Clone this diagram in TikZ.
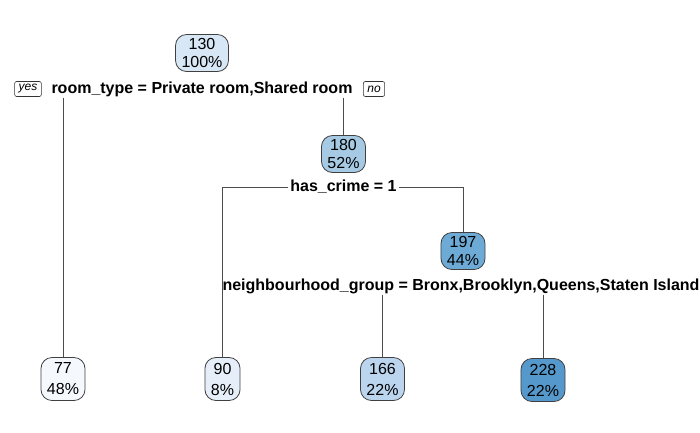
\documentclass[tikz,border=0pt]{standalone}
\usepackage{fontspec}
\setmainfont{Liberation Sans}
\begin{document}
\begin{tikzpicture}[x=1pt,y=-1pt,
  every node/.style={text=black},
  tnode/.style={draw=black!75, line width=0.8pt, rounded corners=11pt, align=center,
    inner xsep=6pt, inner ysep=0pt, minimum height=37pt,
    font=\fontsize{16}{18}\selectfont},
  leafnode/.style={tnode, minimum height=43pt, font=\fontsize{16}{21}\selectfont},
  splitlabel/.style={font=\fontsize{16}{18}\selectfont\bfseries, inner sep=2pt, fill=white},
  yn/.style={draw=black!80, line width=0.6pt, rounded corners=2pt, inner xsep=4pt, inner ysep=1pt,
    minimum height=15pt, font=\fontsize{12}{13}\selectfont\itshape},
  conn/.style={draw=black!70, line width=0.8pt}
]
\useasboundingbox (0,0) rectangle (700,432);
\definecolor{c130}{HTML}{D8E7F5}
\definecolor{c180}{HTML}{A6CAE4}
\definecolor{c197}{HTML}{6DABD6}
\definecolor{c77}{HTML}{F5F9FE}
\definecolor{c90}{HTML}{E6EFF9}
\definecolor{c166}{HTML}{BCD5EE}
\definecolor{c228}{HTML}{5598CB}

% split labels
\node[splitlabel] (s1) at (202,89) {room\_type = Private room,Shared room};
\node[splitlabel] (s2) at (343.5,187) {has\_crime = 1};
\node[splitlabel] (s3) at (461,286) {neighbourhood\_group = Bronx,Brooklyn,Queens,Staten Island};
\node[yn] (yes) at (28,89) {yes};
\node[yn] (no) at (374,89) {no};

% nodes
\node[tnode, fill=c130] (n1) at (202,53) {130\\100\%};
\node[tnode, fill=c180] (n2) at (343.5,154) {180\\52\%};
\node[tnode, fill=c197] (n3) at (463,251) {197\\44\%};
\node[leafnode, fill=c77] (l1) at (63,379) {77\\48\%};
\node[leafnode, fill=c90] (l2) at (222.5,379) {90\\8\%};
\node[leafnode, fill=c166] (l3) at (382.5,379) {166\\22\%};
\node[leafnode, fill=c228] (l4) at (543,380) {228\\22\%};

% connectors
\draw[conn] ([yshift=1pt]l1.north |- s1.south) -- (l1.north);
\draw[conn] ([yshift=1pt]n2.north |- s1.south) -- (n2.north);
\draw[conn] (s2.west) -| (l2.north);
\draw[conn] (s2.east) -| (n3.north);
\draw[conn] ([yshift=1pt]l3.north |- s3.south) -- (l3.north);
\draw[conn] ([yshift=1pt]l4.north |- s3.south) -- (l4.north);
\end{tikzpicture}
\end{document}
